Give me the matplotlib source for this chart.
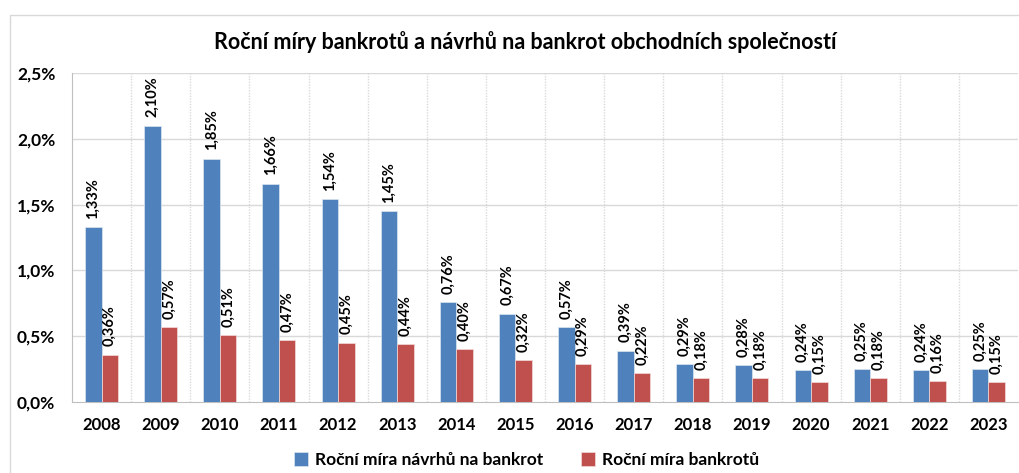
import matplotlib.pyplot as plt
from matplotlib.patches import Rectangle
import numpy as np

plt.rcParams['font.family'] = ['Lato', 'DejaVu Sans']

years = [str(y) for y in range(2008, 2024)]
navrhy = [1.33, 2.10, 1.85, 1.66, 1.54, 1.45, 0.76, 0.67, 0.57, 0.39, 0.29, 0.28, 0.24, 0.25, 0.24, 0.25]
bankroty = [0.36, 0.57, 0.51, 0.47, 0.45, 0.44, 0.40, 0.32, 0.29, 0.22, 0.18, 0.18, 0.15, 0.18, 0.16, 0.15]
yticks = [0.0, 0.5, 1.0, 1.5, 2.0, 2.5]

title = 'Roční míry bankrotů a návrhů na bankrot obchodních společností'
label_navrhy = 'Roční míra návrhů na bankrot'
label_bankroty = 'Roční míra bankrotů'

blue = '#4F81BD'
red = '#C0504D'

W, H = 1019, 473
fig = plt.figure(figsize=(W / 100, H / 100), dpi=100)

# outer chart frame (cut off at right and bottom like the reference)
fig.patches.append(Rectangle((10 / W, -0.05), 1.1, 1 - 15 / H + 0.05,
                             transform=fig.transFigure, fill=False,
                             edgecolor='#d9d9d9', linewidth=1))

ax = fig.add_axes([72 / W, 1 - 402 / H, 946 / W, 329 / H])

x = np.arange(len(years))
bw = 0.28
ax.bar(x - bw / 2, navrhy, bw, color=blue, edgecolor='#dce6f2', linewidth=0.5, zorder=3,
       label=label_navrhy)
ax.bar(x + bw / 2, bankroty, bw, color=red, edgecolor='#f2dcdb', linewidth=0.5, zorder=3,
       label=label_bankroty)

def fmt(v):
    return f'{v:.2f}%'.replace('.', ',')

for xi, v in zip(x, navrhy):
    ax.annotate(fmt(v), (xi - bw / 2, v), xytext=(0, 6), textcoords='offset points',
                rotation=90, ha='center', va='bottom', fontsize=10.5, fontweight='bold')
for xi, v in zip(x, bankroty):
    ax.annotate(fmt(v), (xi + bw / 2, v), xytext=(0, 6), textcoords='offset points',
                rotation=90, ha='center', va='bottom', fontsize=10.5, fontweight='bold')

ax.set_xlim(-0.5, len(years) - 0.5)
ax.set_ylim(0, 2.5)
ax.set_yticks(yticks)
ax.set_yticklabels([f'{t:.1f}%'.replace('.', ',') for t in yticks],
                   fontsize=12.5, fontweight='bold')
ax.set_xticks(x)
ax.set_xticklabels(years, fontsize=12, fontweight='bold')
ax.tick_params(axis='both', length=0)
ax.tick_params(axis='y', pad=12)
ax.tick_params(axis='x', pad=11)

# gridlines: horizontal at ticks, vertical between categories
for t in yticks[1:]:
    ax.axhline(t, color='#d9d9d9', linewidth=1, zorder=0)
for b in np.arange(0.5, len(years) - 0.5, 1.0):
    ax.axvline(b, color='#d9d9d9', linewidth=1, linestyle=(0, (1, 1)), zorder=0)

for side in ['top', 'right']:
    ax.spines[side].set_visible(False)
ax.spines['left'].set_color('#bfbfbf')
ax.spines['bottom'].set_color('#bfbfbf')

fig.text(0.515, 1 - 42 / H, title, ha='center', va='center', fontsize=15.5, fontweight='bold')

leg = fig.legend(loc='center', bbox_to_anchor=(0.517, 1 - 460 / H), ncol=2, frameon=False,
                 prop={'size': 12.5, 'weight': 'bold'}, handlelength=0.8, handleheight=0.8,
                 columnspacing=2.2, handletextpad=0.4)

fig.savefig('out.png', dpi=100, facecolor='white')
